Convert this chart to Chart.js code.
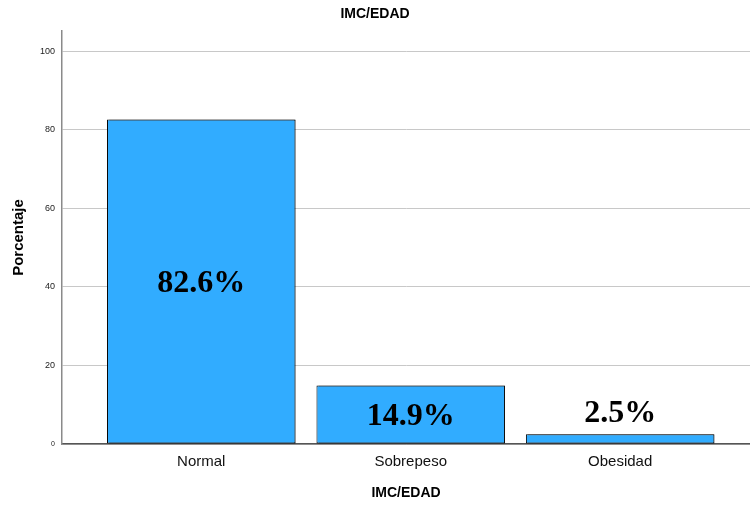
<!DOCTYPE html>
<html>
<head>
<meta charset="utf-8">
<script src="https://cdn.jsdelivr.net/npm/chart.js@4/dist/chart.umd.min.js"></script>
<style>
  html, body { margin: 0; padding: 0; background: #ffffff; }
  #wrap { width: 750px; height: 505px; }
</style>
</head>
<body>
<div id="wrap"><canvas id="chart" width="750" height="505"></canvas></div>
<script>
// IMC/EDAD distribution (percent of children per category)
const categories = ['Normal', 'Sobrepeso', 'Obesidad'];
const percentages = [82.6, 14.9, 2.5];
const yTickValues = [0, 20, 40, 60, 80, 100];

const barColor = 'rgb(49, 172, 255)';

// Light drop shadow on the right side of each bar
const barShadow = {
  id: 'barShadow',
  beforeDatasetsDraw(chart) {
    const ctx = chart.ctx;
    ctx.save();
    ctx.shadowColor = 'rgba(0,0,0,0.35)';
    ctx.shadowOffsetX = 2;
    ctx.shadowOffsetY = 0;
    ctx.shadowBlur = 1;
  },
  afterDatasetsDraw(chart) {
    chart.ctx.restore();
  }
};

// Percentage labels: centered in tall bars, above short ones
const valueLabels = {
  id: 'valueLabels',
  afterDatasetsDraw(chart) {
    const ctx = chart.ctx;
    const meta = chart.getDatasetMeta(0);
    ctx.save();
    ctx.font = 'bold 32px "Liberation Serif", "Times New Roman", serif';
    ctx.fillStyle = '#000000';
    ctx.textAlign = 'center';
    ctx.textBaseline = 'alphabetic';
    meta.data.forEach((bar, i) => {
      const value = percentages[i];
      const text = value.toFixed(1) + '%';
      const h = bar.base - bar.y;
      let baseline;
      if (h > 40) {
        baseline = (bar.y + bar.base) / 2 + 11;
      } else {
        baseline = bar.y - 12;
      }
      ctx.fillText(text, bar.x, baseline);
    });
    ctx.restore();
  }
};

new Chart(document.getElementById('chart'), {
  type: 'bar',
  data: {
    datasets: [{
      data: categories.map((c, i) => ({ x: i, y: percentages[i] })),
      backgroundColor: barColor,
      borderColor: '#000000',
      borderWidth: 1,
      borderSkipped: false,
      barPercentage: 0.9,
      categoryPercentage: 1.0
    }]
  },
  plugins: [barShadow, valueLabels],
  options: {
    responsive: false,
    animation: false,
    devicePixelRatio: 1,
    layout: { padding: 0 },
    plugins: {
      legend: { display: false },
      tooltip: { enabled: false },
      title: {
        display: true,
        text: 'IMC/EDAD',
        color: '#000000',
        font: { family: 'Arial, "Liberation Sans", sans-serif', size: 14, weight: 'bold', lineHeight: 1.2 },
        padding: { top: 6, bottom: 8.2 }
      }
    },
    scales: {
      x: {
        type: 'linear',
        offset: false,
        min: -0.665,
        max: 2.62,
        afterBuildTicks(scale) {
          scale.ticks = categories.map((c, i) => ({ value: i }));
        },
        afterFit(scale) { scale.height = 61; },
        grid: { display: false, drawTicks: false, offset: false },
        border: { display: true, color: '#555555', width: 1.5 },
        ticks: {
          padding: 9,
          color: '#111111',
          font: { family: 'Arial, "Liberation Sans", sans-serif', size: 15 },
          callback: (v) => categories[v] ?? ''
        },
        title: {
          display: true,
          text: 'IMC/EDAD',
          color: '#000000',
          font: { family: 'Arial, "Liberation Sans", sans-serif', size: 14, weight: 'bold', lineHeight: 1.2 },
          padding: { top: 0, bottom: 3.6 }
        }
      },
      y: {
        min: 0,
        max: 105.1,
        afterBuildTicks(scale) {
          scale.ticks = yTickValues.map(v => ({ value: v }));
        },
        afterFit(scale) { scale.width = 62; },
        grid: { color: '#c8c8c8', lineWidth: 1, drawTicks: false },
        border: { display: true, color: '#8a8a8a', width: 1.5 },
        ticks: {
          padding: 7,
          color: '#222222',
          font: (ctx) => ({
            family: 'Arial, "Liberation Sans", sans-serif',
            size: ctx.tick && ctx.tick.value === 0 ? 7 : 9
          })
        },
        title: {
          display: true,
          text: 'Porcentaje',
          color: '#000000',
          font: { family: 'Arial, "Liberation Sans", sans-serif', size: 15, weight: 'bold', lineHeight: 1.2 },
          padding: { top: 10, bottom: 0 }
        }
      }
    }
  }
});
</script>
</body>
</html>
